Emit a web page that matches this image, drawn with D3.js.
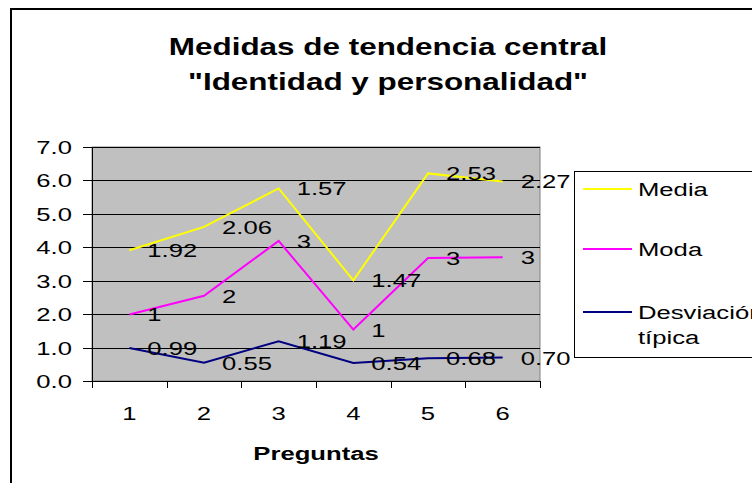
<!DOCTYPE html>
<html>
<head>
<meta charset="utf-8">
<script src="https://cdn.jsdelivr.net/npm/d3@7"></script>
<style>
  body { margin: 0; background: #fff; }
  text { font-family: "Liberation Sans", Arial, sans-serif; fill: #000; }
</style>
</head>
<body>
<div id="chart"></div>
<script>
// Data (stacked line chart: each series sits on top of the one below)
const preguntas = ['1', '2', '3', '4', '5', '6'];
const media = [1.92, 2.06, 1.57, 1.47, 2.53, 2.27];
const moda = [1, 2, 3, 1, 3, 3];
const desviacion = [0.99, 0.55, 1.19, 0.54, 0.68, 0.70];
const modaLabels = ['1', '2', '3', '1', '3', '3'];
const yTicks = [0, 1, 2, 3, 4, 5, 6, 7];

const width = 752, height = 483;
const plot = { left: 92, top: 147, right: 540, bottom: 381 };
const sx = 1.35; // text in the picture is drawn horizontally stretched

const svg = d3.select('#chart').append('svg')
    .attr('width', width)
    .attr('height', height);

// helper: place a text with horizontal stretch
function putText(str, x, y, opts) {
    opts = opts || {};
    return svg.append('text')
        .attr('transform', `translate(${x},${y}) scale(${opts.sx || sx},1)`)
        .attr('text-anchor', opts.anchor || 'start')
        .attr('font-size', (opts.size || 19) + 'px')
        .attr('font-weight', opts.bold ? 'bold' : 'normal')
        .text(str);
}

// outer chart frame
svg.append('rect')
    .attr('x', 11).attr('y', 9)
    .attr('width', 800).attr('height', 600)
    .attr('fill', 'none')
    .attr('stroke', '#000')
    .attr('stroke-width', 2);

// title
putText('Medidas de tendencia central', 388, 55, { anchor: 'middle', size: 24, bold: true, sx: 1.31 });
putText('"Identidad y personalidad"', 388, 90, { anchor: 'middle', size: 24, bold: true, sx: 1.31 });

// scales
const x = d3.scaleBand().domain(preguntas).range([plot.left, plot.right]);
const y = d3.scaleLinear().domain([0, 7]).range([plot.bottom, plot.top]);

// plot area
svg.append('rect')
    .attr('x', plot.left).attr('y', plot.top)
    .attr('width', plot.right - plot.left)
    .attr('height', plot.bottom - plot.top)
    .attr('fill', '#c0c0c0')
    .attr('stroke', '#808080')
    .attr('stroke-width', 1);

// gridlines
svg.selectAll('.grid')
    .data(yTicks.filter(d => d > 0))
    .enter().append('line')
    .attr('x1', plot.left).attr('x2', plot.right)
    .attr('y1', d => Math.round(y(d)) + 0.5)
    .attr('y2', d => Math.round(y(d)) + 0.5)
    .attr('stroke', '#000')
    .attr('stroke-width', 1);

// y axis
svg.append('line')
    .attr('x1', plot.left + 0.5).attr('x2', plot.left + 0.5)
    .attr('y1', plot.top).attr('y2', plot.bottom)
    .attr('stroke', '#000');
svg.selectAll('.ytick')
    .data(yTicks)
    .enter().append('line')
    .attr('x1', plot.left - 9).attr('x2', plot.left)
    .attr('y1', d => Math.round(y(d)) + 0.5)
    .attr('y2', d => Math.round(y(d)) + 0.5)
    .attr('stroke', '#000');
yTicks.forEach(d => {
    putText(d.toFixed(1), 72, y(d) + 7, { anchor: 'end' });
});

// x axis
svg.append('line')
    .attr('x1', plot.left).attr('x2', plot.right)
    .attr('y1', plot.bottom + 0.5).attr('y2', plot.bottom + 0.5)
    .attr('stroke', '#000');
const boundaries = preguntas.map(p => x(p)).concat([plot.right]);
svg.selectAll('.xtick')
    .data(boundaries)
    .enter().append('line')
    .attr('x1', d => Math.round(d) + 0.5)
    .attr('x2', d => Math.round(d) + 0.5)
    .attr('y1', plot.bottom).attr('y2', plot.bottom + 7)
    .attr('stroke', '#000');
preguntas.forEach(p => {
    putText(p, x(p) + x.bandwidth() / 2, 420, { anchor: 'middle' });
});
putText('Preguntas', 316, 460, { anchor: 'middle', bold: true });

// stacked series
const rows = preguntas.map((p, i) => ({
    p: p, desv: desviacion[i], moda: moda[i], media: media[i]
}));
const stack = d3.stack().keys(['desv', 'moda', 'media']);
const layers = stack(rows);
const colors = { media: '#ffff00', moda: '#ff00ff', desv: '#000080' };
const labels = {
    media: media.map(v => v.toFixed(2)),
    moda: modaLabels,
    desv: desviacion.map(v => v.toFixed(2))
};

const line = d3.line()
    .x(d => x(d.data.p) + x.bandwidth() / 2)
    .y(d => y(d[1]));

layers.forEach(layer => {
    svg.append('path')
        .datum(layer)
        .attr('d', line)
        .attr('fill', 'none')
        .attr('stroke', colors[layer.key])
        .attr('stroke-width', 2);
});

// data labels, right of each point
layers.forEach(layer => {
    layer.forEach((d, i) => {
        putText(labels[layer.key][i], x(d.data.p) + x.bandwidth() / 2 + 18, y(d[1]) + 7);
    });
});

// legend
svg.append('rect')
    .attr('x', 574.5).attr('y', 171.5)
    .attr('width', 300).attr('height', 186)
    .attr('fill', '#fff')
    .attr('stroke', '#000')
    .attr('stroke-width', 1);
const legendItems = [
    { key: 'media', text: ['Media'], y: 189 },
    { key: 'moda', text: ['Moda'], y: 249 },
    { key: 'desv', text: ['Desviación', 'típica'], y: 312 }
];
legendItems.forEach(item => {
    svg.append('line')
        .attr('x1', 583).attr('x2', 632)
        .attr('y1', item.y).attr('y2', item.y)
        .attr('stroke', colors[item.key])
        .attr('stroke-width', 2);
    item.text.forEach((t, j) => {
        putText(t, 638, item.y + 7 + j * 25);
    });
});
</script>
</body>
</html>
